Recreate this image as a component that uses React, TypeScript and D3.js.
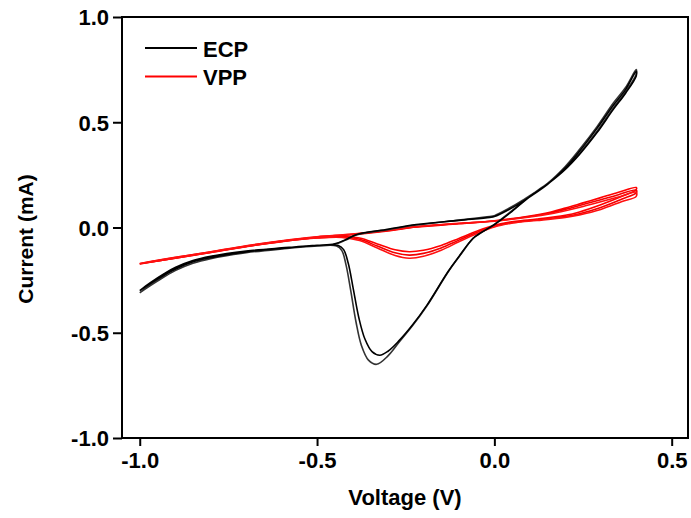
import { useEffect, useRef } from 'react';
import * as d3 from 'd3';

// Voltage (V), Current (mA) pairs
const ecpCycle1: [number, number][] = [
  [-1.0, -0.31], [-0.97, -0.27], [-0.93, -0.225], [-0.9, -0.195], [-0.85, -0.16], [-0.8, -0.14],
  [-0.7, -0.115], [-0.6, -0.1], [-0.5, -0.088], [-0.45, -0.08], [-0.42, -0.06], [-0.39, -0.036],
  [-0.3, -0.01], [-0.22, 0.012], [-0.1, 0.035], [-0.013, 0.052], [0.0, 0.056], [0.04, 0.09],
  [0.08, 0.13], [0.15, 0.21], [0.2, 0.29], [0.24, 0.37], [0.29, 0.48], [0.335, 0.59],
  [0.37, 0.665], [0.4, 0.75],
  [0.4, 0.728], [0.37, 0.645], [0.335, 0.567], [0.29, 0.458], [0.24, 0.352], [0.2, 0.28],
  [0.15, 0.21], [0.1, 0.15], [0.05, 0.08], [0.0, 0.015], [-0.04, -0.028], [-0.06, -0.052],
  [-0.1, -0.14], [-0.13, -0.21], [-0.19, -0.372], [-0.23, -0.465], [-0.27, -0.548], [-0.3, -0.61],
  [-0.332, -0.65], [-0.355, -0.63], [-0.375, -0.56], [-0.39, -0.45], [-0.405, -0.3],
  [-0.418, -0.18], [-0.43, -0.11], [-0.445, -0.088], [-0.5, -0.088], [-0.6, -0.102],
  [-0.7, -0.12], [-0.8, -0.148], [-0.85, -0.17], [-0.9, -0.205], [-0.95, -0.255], [-1.0, -0.31],
];

const ecpCycle2: [number, number][] = [
  [-1.0, -0.3], [-0.97, -0.262], [-0.93, -0.218], [-0.9, -0.19], [-0.85, -0.157], [-0.8, -0.137],
  [-0.7, -0.112], [-0.6, -0.097], [-0.5, -0.085], [-0.45, -0.077], [-0.42, -0.058], [-0.39, -0.034],
  [-0.3, -0.008], [-0.22, 0.014], [-0.1, 0.034], [-0.013, 0.048], [0.0, 0.052], [0.04, 0.084],
  [0.08, 0.124], [0.15, 0.205], [0.2, 0.283], [0.24, 0.362], [0.29, 0.472], [0.335, 0.58],
  [0.37, 0.655], [0.4, 0.742],
  [0.4, 0.72], [0.37, 0.638], [0.335, 0.56], [0.29, 0.452], [0.24, 0.347], [0.2, 0.276],
  [0.15, 0.206], [0.1, 0.147], [0.05, 0.077], [0.0, 0.014], [-0.04, -0.027], [-0.06, -0.051],
  [-0.1, -0.138], [-0.13, -0.208], [-0.19, -0.369], [-0.23, -0.461], [-0.27, -0.54], [-0.3, -0.588],
  [-0.323, -0.607], [-0.345, -0.59], [-0.365, -0.53], [-0.382, -0.43], [-0.398, -0.29],
  [-0.412, -0.17], [-0.425, -0.105], [-0.44, -0.085], [-0.5, -0.085], [-0.6, -0.099],
  [-0.7, -0.116], [-0.8, -0.143], [-0.85, -0.163], [-0.9, -0.198], [-0.95, -0.245], [-1.0, -0.3],
];

const vppCycle1: [number, number][] = [
  [-1.0, -0.173], [-0.95, -0.158], [-0.9, -0.145], [-0.8, -0.118], [-0.7, -0.09], [-0.6, -0.066],
  [-0.5, -0.047], [-0.4, -0.034], [-0.3, -0.016], [-0.22, 0.002], [-0.1, 0.018], [0.0, 0.032],
  [0.1, 0.055], [0.16, 0.074], [0.2, 0.092], [0.25, 0.117], [0.3, 0.142], [0.35, 0.167], [0.4, 0.19],
  [0.4, 0.18], [0.36, 0.148], [0.3, 0.108], [0.24, 0.074], [0.2, 0.058], [0.12, 0.04], [0.06, 0.03],
  [0.0, 0.01], [-0.05, -0.018], [-0.1, -0.052], [-0.15, -0.085], [-0.2, -0.108], [-0.24, -0.115],
  [-0.28, -0.106], [-0.33, -0.078], [-0.38, -0.05], [-0.43, -0.043], [-0.5, -0.048], [-0.6, -0.066],
  [-0.7, -0.09], [-0.8, -0.118], [-0.9, -0.146], [-1.0, -0.173],
];

const vppCycle2: [number, number][] = [
  [-1.0, -0.172], [-0.95, -0.157], [-0.9, -0.143], [-0.8, -0.116], [-0.7, -0.088], [-0.6, -0.064],
  [-0.5, -0.045], [-0.4, -0.032], [-0.3, -0.014], [-0.22, 0.003], [-0.1, 0.019], [0.0, 0.031],
  [0.1, 0.052], [0.16, 0.07], [0.2, 0.086], [0.25, 0.109], [0.3, 0.132], [0.35, 0.156], [0.4, 0.178],
  [0.4, 0.165], [0.36, 0.135], [0.3, 0.095], [0.24, 0.065], [0.2, 0.052], [0.12, 0.036], [0.06, 0.026],
  [0.0, 0.006], [-0.05, -0.024], [-0.1, -0.06], [-0.15, -0.097], [-0.2, -0.123], [-0.24, -0.131],
  [-0.28, -0.12], [-0.33, -0.088], [-0.38, -0.056], [-0.43, -0.045], [-0.5, -0.049], [-0.6, -0.066],
  [-0.7, -0.09], [-0.8, -0.117], [-0.9, -0.145], [-1.0, -0.172],
];

const vppCycle3: [number, number][] = [
  [-1.0, -0.171], [-0.95, -0.156], [-0.9, -0.142], [-0.8, -0.115], [-0.7, -0.087], [-0.6, -0.063],
  [-0.5, -0.044], [-0.4, -0.031], [-0.3, -0.013], [-0.22, 0.004], [-0.1, 0.02], [0.0, 0.03],
  [0.1, 0.05], [0.16, 0.066], [0.2, 0.08], [0.25, 0.1], [0.3, 0.122], [0.35, 0.145], [0.4, 0.168],
  [0.4, 0.148], [0.36, 0.124], [0.3, 0.086], [0.24, 0.06], [0.2, 0.048], [0.12, 0.033], [0.06, 0.023],
  [0.0, 0.003], [-0.05, -0.03], [-0.1, -0.068], [-0.15, -0.108], [-0.2, -0.137], [-0.24, -0.146],
  [-0.28, -0.133], [-0.33, -0.097], [-0.38, -0.062], [-0.43, -0.047], [-0.5, -0.05], [-0.6, -0.067],
  [-0.7, -0.091], [-0.8, -0.118], [-0.9, -0.146], [-1.0, -0.171],
];

const xTicks = [-1.0, -0.5, 0.0, 0.5];
const yTicks = [-1.0, -0.5, 0.0, 0.5, 1.0];
const seriesNames = ['ECP', 'VPP'];

const W = 691;
const H = 518;
const margin = { top: 17, right: 3, bottom: 80, left: 122 };
const font = '"Liberation Sans", Arial, sans-serif';
const fmt = (d: d3.NumberValue) => d3.format('.1f')(d).replace('−', '-');

export default function App() {
  const svgRef = useRef<SVGSVGElement>(null);

  useEffect(() => {
    const svg = d3.select(svgRef.current);
    svg.selectAll('*').remove();

    const x = d3.scaleLinear().domain([-1.05, 0.546]).range([margin.left, W - margin.right]);
    const y = d3.scaleLinear().domain([-1, 1]).range([H - margin.bottom, margin.top]);

    svg.append('rect').attr('width', W).attr('height', H).attr('fill', '#fff');

    const line = d3.line<[number, number]>()
      .x(d => x(d[0]))
      .y(d => y(d[1]))
      .curve(d3.curveCatmullRom.alpha(0.5));

    const curves: { data: [number, number][]; color: string }[] = [
      { data: vppCycle1, color: '#ff0000' },
      { data: vppCycle2, color: '#f20000' },
      { data: vppCycle3, color: '#ff1010' },
      { data: ecpCycle1, color: '#333' },
      { data: ecpCycle2, color: '#000' },
    ];

    const plot = svg.append('g');
    plot.selectAll('path')
      .data(curves)
      .enter()
      .append('path')
      .attr('d', d => line(d.data))
      .attr('fill', 'none')
      .attr('stroke', d => d.color)
      .attr('stroke-width', 1.6);

    const xAxis = svg.append('g')
      .attr('transform', `translate(0, ${H - margin.bottom})`)
      .call(d3.axisBottom(x).tickValues(xTicks).tickFormat(fmt).tickSize(8).tickSizeOuter(0).tickPadding(6));
    const yAxis = svg.append('g')
      .attr('transform', `translate(${margin.left}, 0)`)
      .call(d3.axisLeft(y).tickValues(yTicks).tickFormat(fmt).tickSize(9).tickSizeOuter(0).tickPadding(4));

    [xAxis, yAxis].forEach(g => {
      g.select('.domain').remove();
      g.selectAll('line').attr('stroke', '#000').attr('stroke-width', 2);
      g.selectAll('text')
        .attr('font-family', font)
        .attr('font-weight', 'bold')
        .attr('font-size', 22)
        .attr('fill', '#000');
    });
    yAxis.selectAll('text').attr('dy', '0.36em');

    svg.append('rect')
      .attr('x', margin.left)
      .attr('y', margin.top)
      .attr('width', W - margin.right - margin.left)
      .attr('height', H - margin.bottom - margin.top)
      .attr('fill', 'none')
      .attr('stroke', '#000')
      .attr('stroke-width', 2);

    svg.append('text')
      .attr('x', (margin.left + W - margin.right) / 2)
      .attr('y', 505)
      .attr('text-anchor', 'middle')
      .attr('font-family', font)
      .attr('font-weight', 'bold')
      .attr('font-size', 22)
      .text('Voltage (V)');

    svg.append('text')
      .attr('transform', 'translate(33, 239) rotate(-90)')
      .attr('text-anchor', 'middle')
      .attr('font-family', font)
      .attr('font-weight', 'bold')
      .attr('font-size', 21)
      .text('Current (mA)');

    const legendColors = ['#000', '#ff0000'];
    const legend = svg.append('g');
    seriesNames.forEach((name, i) => {
      const ly = 48 + i * 28.5;
      legend.append('line')
        .attr('x1', 145).attr('x2', 197)
        .attr('y1', ly).attr('y2', ly)
        .attr('stroke', legendColors[i])
        .attr('stroke-width', 1.8);
      legend.append('text')
        .attr('x', 203)
        .attr('y', ly + 8.5)
        .attr('font-family', font)
        .attr('font-weight', 'bold')
        .attr('font-size', 22)
        .text(name);
    });
  }, []);

  return (
    <svg
      ref={svgRef}
      width={W}
      height={H}
      style={{ position: 'absolute', left: 0, top: 0 }}
    />
  );
}
